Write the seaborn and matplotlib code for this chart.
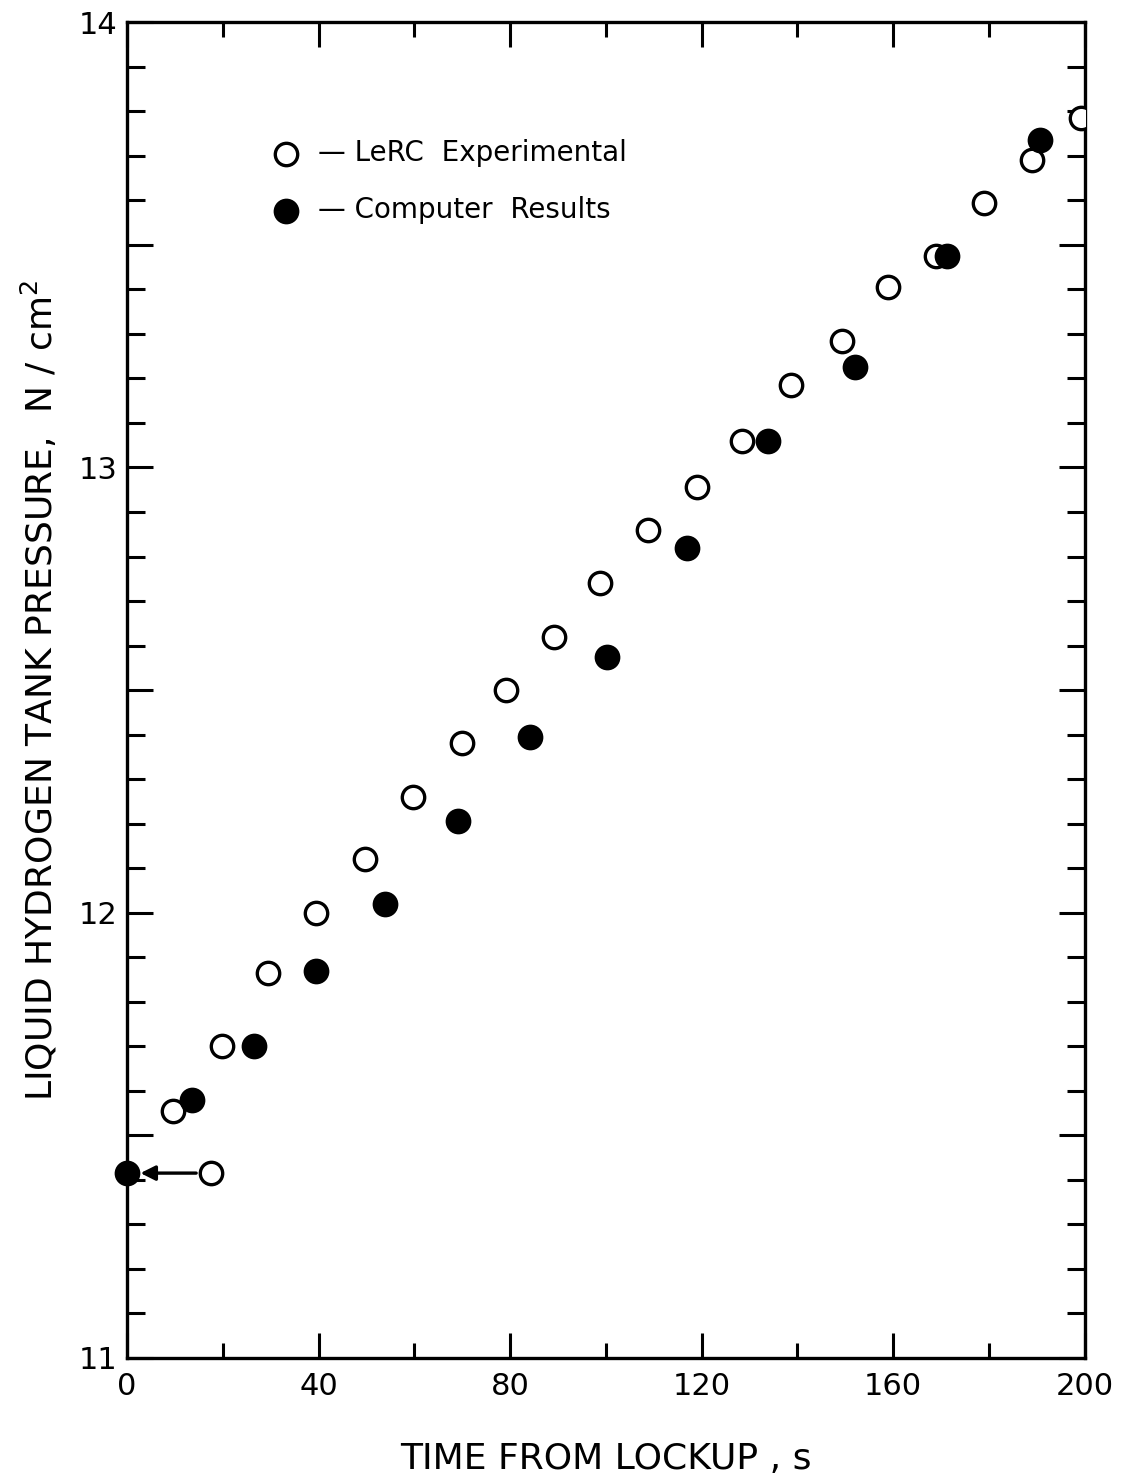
import matplotlib
matplotlib.use("Agg")
import matplotlib.pyplot as plt
from matplotlib.ticker import MultipleLocator, FuncFormatter
import seaborn as sns

# LeRC experimental (open circles)
exp_time = [17.5, 9.6, 19.8, 29.4, 39.5, 49.7, 59.7, 69.9, 79.1, 89.1, 98.7,
            108.8, 119.0, 128.4, 138.6, 149.3, 158.9, 168.9, 179.1, 189.1, 199.2]
exp_pressure = [11.415, 11.555, 11.70, 11.865, 12.0, 12.12, 12.26, 12.38, 12.50,
                12.62, 12.74, 12.86, 12.955, 13.06, 13.185, 13.285, 13.405,
                13.475, 13.595, 13.69, 13.785]

# computer results (filled circles)
comp_time = [0.0, 13.6, 26.5, 39.5, 53.9, 69.1, 84.1, 100.2, 116.9, 133.8,
             152.0, 171.2, 190.6]
comp_pressure = [11.415, 11.58, 11.70, 11.87, 12.02, 12.205, 12.395, 12.575,
                 12.82, 13.06, 13.225, 13.475, 13.735]


def main():
    sns.set_style("ticks")
    plt.rcParams["font.family"] = ["DejaVu Sans"]
    plt.rcParams["text.color"] = "black"
    plt.rcParams["axes.labelcolor"] = "black"
    plt.rcParams["xtick.color"] = "black"
    plt.rcParams["ytick.color"] = "black"

    fig = plt.figure(figsize=(11.25, 14.84), dpi=100)
    ax = fig.add_axes([0.113, 0.085, 0.851, 0.9])

    sns.scatterplot(x=exp_time, y=exp_pressure, ax=ax, marker="o", s=260,
                    color="white", edgecolor="black", linewidth=2.4,
                    zorder=3, label="— LeRC  Experimental")
    sns.scatterplot(x=comp_time, y=comp_pressure, ax=ax, marker="o", s=260,
                    color="black", edgecolor="black", linewidth=2.4,
                    zorder=4, label="— Computer  Results", clip_on=False)

    # arrow from the first test point to the start of the computed run
    ax.annotate("", xy=(comp_time[0] + 2.2, comp_pressure[0]),
                xytext=(exp_time[0] - 2.5, exp_pressure[0]),
                arrowprops=dict(arrowstyle="-|>", color="black", lw=2.4,
                                mutation_scale=22))

    ax.set_xlim(0, 200)
    ax.set_ylim(11, 14)
    ax.xaxis.set_major_locator(MultipleLocator(40))
    ax.xaxis.set_minor_locator(MultipleLocator(20))
    ax.yaxis.set_major_locator(MultipleLocator(0.5))
    ax.yaxis.set_minor_locator(MultipleLocator(0.1))
    ax.yaxis.set_major_formatter(
        FuncFormatter(lambda v, p: f"{v:.0f}" if abs(v - round(v)) < 1e-6 else ""))

    ax.tick_params(axis="x", which="major", direction="in", top=True,
                   bottom=True, length=18, width=2.2, labelsize=22, pad=10)
    ax.tick_params(axis="x", which="minor", direction="in", top=True,
                   bottom=True, length=11, width=2.2)
    ax.tick_params(axis="y", which="major", direction="in", left=True,
                   right=True, length=19, width=2.2, labelsize=22, pad=7)
    ax.tick_params(axis="y", which="minor", direction="in", left=True,
                   right=True, length=13, width=2.2)

    for sp in ax.spines.values():
        sp.set_linewidth(2.4)
        sp.set_color("black")

    ax.set_xlabel("TIME FROM LOCKUP , s", fontsize=26, labelpad=30)
    ax.set_ylabel("LIQUID HYDROGEN TANK PRESSURE,  N / cm$^2$", fontsize=26,
                  labelpad=14)

    ax.legend(loc="upper left", bbox_to_anchor=(0.125, 0.921),
              frameon=False, fontsize=20, handletextpad=0.15,
              labelspacing=1.05, markerscale=1.0, borderaxespad=0)

    fig.savefig("out.png", dpi=100)


if __name__ == "__main__":
    main()
